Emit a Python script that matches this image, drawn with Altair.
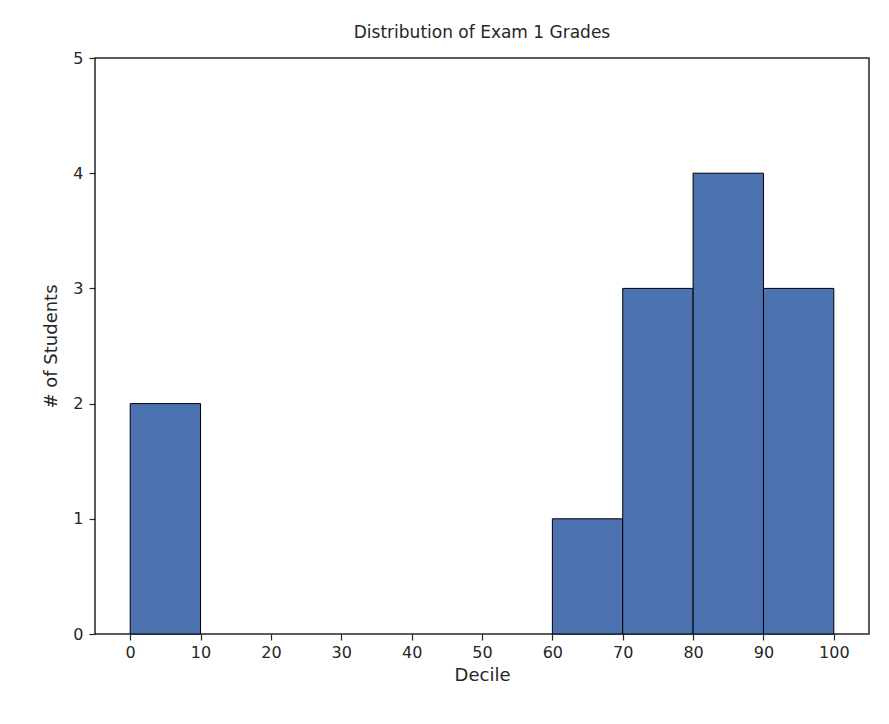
import pandas as pd
import altair as alt

# histogram of exam 1 grades, binned by decile
bin_start = [0, 10, 20, 30, 40, 50, 60, 70, 80, 90]
counts = [2, 0, 0, 0, 0, 0, 1, 3, 4, 3]
x_ticks = [0, 10, 20, 30, 40, 50, 60, 70, 80, 90, 100]
y_ticks = [0, 1, 2, 3, 4, 5]

df = pd.DataFrame({"start": bin_start, "count": counts})
df["end"] = df["start"] + 10
df = df[df["count"] > 0]

FONT = "DejaVu Sans"

bars = alt.Chart(df).mark_bar(color="#4c72b0", stroke="black", strokeWidth=1).encode(
    x=alt.X("start:Q", scale=alt.Scale(domain=[-5, 105], nice=False, zero=False),
            axis=alt.Axis(values=x_ticks, title="Decile", grid=False, tickSize=6,
                          labelPadding=4, titlePadding=6)),
    x2="end:Q",
    y=alt.Y("count:Q", scale=alt.Scale(domain=[0, 5], nice=False),
            axis=alt.Axis(values=y_ticks, title="# of Students", grid=False, tickSize=6,
                          labelPadding=6, titlePadding=12)),
    y2=alt.datum(0),
)

chart = bars.properties(
    width=774, height=576,
    padding={"left": 34, "top": 16, "right": 10, "bottom": 5},
    title=alt.TitleParams("Distribution of Exam 1 Grades", fontSize=17, fontWeight="normal",
                          font=FONT, color="#262626", offset=8),
).configure_axis(
    labelFont=FONT, titleFont=FONT, labelFontSize=16, titleFontSize=18,
    titleFontWeight="normal", labelColor="#262626", titleColor="#262626",
    domain=False, tickColor="#262626", tickWidth=1.2,
).configure_view(stroke="#262626", strokeWidth=1.5)

chart.save("out.html", embed_options={"renderer": "svg", "actions": False})
